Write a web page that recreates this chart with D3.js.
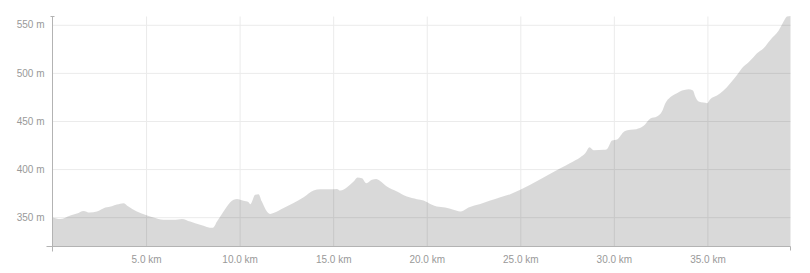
<!DOCTYPE html>
<html>
<head>
<meta charset="utf-8">
<script src="https://cdn.jsdelivr.net/npm/d3@7"></script>
<style>
    html, body { margin: 0; padding: 0; background: #fff; }
    svg { display: block; }
    .tick text { font-family: "Liberation Sans", Arial, sans-serif; font-size: 10px; fill: #999; }
</style>
</head>
<body>
<svg id="profile" width="810" height="273"></svg>
<script>
"use strict";

// distance along the route (km) and elevation (m)
const distKm = [
    0.00, 0.41, 0.95, 1.30, 1.66, 1.98, 2.37, 2.82, 3.17, 3.44, 3.79, 4.06,
    4.51, 4.95, 5.40, 5.93, 6.47, 6.92, 7.36, 7.89, 8.25, 8.57, 8.79, 9.14,
    9.50, 9.86, 10.21, 10.48, 10.57, 10.83, 11.01, 11.19, 11.46, 11.64, 11.81,
    12.35, 12.88, 13.42, 13.95, 14.31, 14.84, 15.20, 15.38, 15.74, 16.09,
    16.30, 16.54, 16.77, 17.07, 17.30, 17.51, 17.87, 18.41, 18.94, 19.48,
    19.83, 20.28, 20.54, 20.99, 21.43, 21.79, 21.97, 22.23, 22.86, 23.39,
    23.93, 24.46, 25.00, 25.53, 26.07, 26.60, 27.14, 27.67, 28.21, 28.47,
    28.70, 28.92, 29.45, 29.63, 29.90, 30.20, 30.55, 30.88, 31.20, 31.59,
    31.95, 32.30, 32.57, 32.75, 33.01, 33.37, 33.64, 33.99, 34.23, 34.35,
    34.53, 34.79, 34.98, 35.15, 35.51, 35.86, 36.22, 36.58, 36.93, 37.11,
    37.29, 37.65, 38.00, 38.36, 38.81, 39.07, 39.25, 39.44
];
const elevM = [
    349.6, 348.0, 351.7, 353.7, 356.5, 354.8, 355.8, 360.0, 361.4, 363.1, 364.5, 361.0,
    355.8, 352.4, 349.6, 347.2, 347.2, 348.2, 345.4, 342.0, 339.9, 338.9, 345.4, 355.8,
    365.6, 369.0, 367.0, 365.6, 363.5, 373.2, 373.9, 366.2, 355.8, 353.4, 354.2,
    359.4, 364.6, 370.8, 377.7, 379.1, 379.1, 379.4, 377.7, 381.2, 387.0,
    391.2, 390.5, 385.3, 388.8, 389.8, 387.7, 381.8, 376.6, 371.4, 368.7,
    367.3, 362.8, 361.0, 360.0, 357.6, 355.8, 356.9, 360.0, 363.8, 367.3,
    370.8, 373.9, 378.4, 383.6, 389.5, 395.0, 400.9, 406.4, 412.4, 416.5,
    422.8, 419.6, 420.0, 420.7, 429.6, 431.1, 439.0, 440.8, 441.5, 444.9,
    452.5, 454.6, 459.8, 468.5, 474.7, 478.9, 481.6, 483.1, 481.6, 475.4,
    470.2, 469.1, 468.5, 472.6, 476.4, 481.6, 489.3, 497.9, 506.6, 509.4,
    512.8, 520.5, 525.7, 534.3, 544.0, 553.3, 558.5, 559.0
];

const xTicks = [5, 10, 15, 20, 25, 30, 35];
const yTicks = [350, 400, 450, 500, 550];

const margin = {top: 16.5, right: 19.5, bottom: 26.5, left: 52.5};
const width = 810 - margin.left - margin.right;
const height = 273 - margin.top - margin.bottom;

let svg = d3.select("#profile");
let g = svg.append("g")
    .attr("transform", "translate(" + margin.left + "," + margin.top + ")");

let x = d3.scaleLinear().domain([0, 39.44]).range([0, width]);
let y = d3.scaleLinear().domain([319.5, 558.6]).range([height, 0]);

// grid + labels
let gx = g.append("g")
    .attr("transform", "translate(0," + height + ")")
    .call(d3.axisBottom(x)
        .tickValues(xTicks)
        .tickSize(-height)
        .tickPadding(9)
        .tickFormat((d) => d3.format(".1f")(d) + " km"));

let gy = g.append("g")
    .call(d3.axisLeft(y)
        .tickValues(yTicks)
        .tickSize(-width)
        .tickPadding(8)
        .tickFormat((d) => d + " m"));

[gx, gy].forEach((a) => {
    a.select(".domain").remove();
    a.selectAll(".tick line").attr("stroke", "#ebebeb");
});

// elevation area
let pts = d3.zip(distKm, elevM);

let area = d3.area()
    .x((d) => x(d[0]))
    .y0(height)
    .y1((d) => y(d[1]))
    .curve(d3.curveMonotoneX);

g.append("path")
    .datum(pts)
    .attr("d", area)
    .attr("fill", "#000")
    .attr("fill-opacity", 0.15);

// axis lines with the little end caps
let axisCol = "#b3b3b3";
g.append("path")
    .attr("d", "M-2,0H2M0,0V" + (height + 5))
    .attr("fill", "none")
    .attr("stroke", axisCol);
g.append("path")
    .attr("d", "M-6," + height + "H" + width + "V" + (height + 4))
    .attr("fill", "none")
    .attr("stroke", axisCol);
</script>
</body>
</html>
